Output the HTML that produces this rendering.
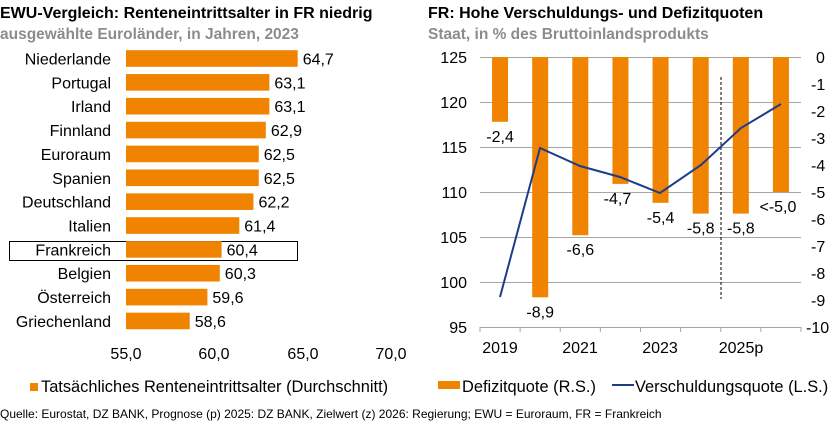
<!DOCTYPE html>
<html><head><meta charset="utf-8"><style>
body{margin:0;background:#fff;}
svg{display:block;font-family:"Liberation Sans",Arial,sans-serif;}
</style></head><body>
<svg width="840" height="430" xmlns="http://www.w3.org/2000/svg">
<text x="0" y="18" font-size="16" font-weight="bold" fill="#000">EWU-Vergleich: Renteneintrittsalter in FR niedrig</text>
<text x="0" y="39" font-size="15.5" font-weight="bold" fill="#8c8c8c">ausgewählte Euroländer, in Jahren, 2023</text>
<text x="428" y="18" font-size="16" font-weight="bold" fill="#000">FR: Hohe Verschuldungs- und Defizitquoten</text>
<text x="428" y="39" font-size="15.5" font-weight="bold" fill="#8c8c8c">Staat, in % des Bruttoinlandsprodukts</text>
<g font-size="16" fill="#000">
<rect x="9.5" y="241.5" width="288" height="19" fill="none" stroke="#000" stroke-width="1"/>
<g id="bars"></g>
</g>
<g font-size="16" fill="#000" text-anchor="middle">
<text x="126" y="359">55,0</text><text x="214" y="359">60,0</text><text x="303" y="359">65,0</text><text x="391" y="359">70,0</text>
</g>
<rect x="30" y="383" width="8" height="8" fill="#F08300"/>
<text x="41" y="392" font-size="16.4" fill="#000">Tatsächliches Renteneintrittsalter (Durchschnitt)</text>
<text x="0" y="418" font-size="12" fill="#000">Quelle: Eurostat, DZ BANK, Prognose (p) 2025: DZ BANK, Zielwert (z) 2026: Regierung; EWU = Euroraum, FR = Frankreich</text>

<g stroke="#a6a6a6" stroke-width="1">
<line x1="480" y1="57.5" x2="801" y2="57.5"/><line x1="480" y1="102.5" x2="801" y2="102.5"/>
<line x1="480" y1="147.5" x2="801" y2="147.5"/><line x1="480" y1="192.5" x2="801" y2="192.5"/>
<line x1="480" y1="237.5" x2="801" y2="237.5"/><line x1="480" y1="282.5" x2="801" y2="282.5"/>
<line x1="480" y1="327.5" x2="801" y2="327.5"/>
</g>
<g id="rb"></g>
<line x1="721" y1="77" x2="721" y2="299" stroke="#000" stroke-width="1" stroke-dasharray="3,2"/>
<polyline points="500,297 540,148 580,166 620,177 660,193 701,165 741,128 781,104" fill="none" stroke="#1F3C88" stroke-width="2"/>
<g font-size="16" fill="#000" text-anchor="end">
<text x="467" y="63">125</text><text x="467" y="108">120</text><text x="467" y="153">115</text><text x="467" y="198">110</text><text x="467" y="243">105</text><text x="467" y="288">100</text><text x="467" y="333">95</text>
</g>
<g font-size="16" fill="#000" text-anchor="start">
<text x="816" y="63">0</text><text x="811" y="90">-1</text><text x="811" y="117">-2</text><text x="811" y="144">-3</text><text x="811" y="171">-4</text><text x="811" y="198">-5</text><text x="811" y="225">-6</text><text x="811" y="252">-7</text><text x="811" y="279">-8</text><text x="811" y="306">-9</text><text x="806" y="333">-10</text>
</g>
<g font-size="16" fill="#000" text-anchor="middle">
<text x="500" y="353">2019</text><text x="580" y="353">2021</text><text x="660" y="353">2023</text><text x="741" y="353">2025p</text>
</g>
<rect x="438" y="381" width="22" height="8" fill="#F08300"/>
<text x="462" y="392" font-size="16.4" fill="#000">Defizitquote (R.S.)</text>
<line x1="612" y1="385" x2="634" y2="385" stroke="#1F3C88" stroke-width="2"/>
<text x="635" y="392" font-size="16.4" fill="#000">Verschuldungsquote (L.S.)</text>
</svg>
<script>
var ns="http://www.w3.org/2000/svg";
function el(p,t,a,txt){var e=document.createElementNS(ns,t);for(var k in a)e.setAttribute(k,a[k]);if(txt!==undefined)e.textContent=txt;p.appendChild(e);return e;}
var d=[["Niederlande",64.7],["Portugal",63.1],["Irland",63.1],["Finnland",62.9],["Euroraum",62.5],["Spanien",62.5],["Deutschland",62.2],["Italien",61.4],["Frankreich",60.4],["Belgien",60.3],["Österreich",59.6],["Griechenland",58.6]];
var g=document.getElementById("bars");
d.forEach(function(r,i){var cy=58.5+i*23.86;var w=(r[1]-55)*17.7;
el(g,"rect",{x:126,y:cy-8.3,width:w,height:16.6,fill:"#F08300"});
el(g,"text",{x:111,y:cy+6,"text-anchor":"end"},r[0]);
el(g,"text",{x:126+w+5,y:cy+6},r[1].toFixed(1).replace(".",","));});
var rb=document.getElementById("rb");
var v=[-2.4,-8.9,-6.6,-4.7,-5.4,-5.8,-5.8,-5.0];
var lab=["-2,4","-8,9","-6,6","-4,7","-5,4","-5,8","-5,8","<-5,0"];
var lx=[0,0,0,-3,0,0,0,-3];
v.forEach(function(x,i){var cx=480+40.125*(i+0.5);var h=-x*27;
el(rb,"rect",{x:cx-8,y:57,width:16,height:h,fill:"#F08300"});
el(rb,"text",{x:cx+lx[i],y:57+h+20,"text-anchor":"middle","font-size":"16"},lab[i]);});
for(var i=0;i<=8;i++){var x=480+40.125*i;el(rb,"line",{x1:x,y1:327,x2:x,y2:332,stroke:"#a6a6a6"});}
</script>
</body></html>
